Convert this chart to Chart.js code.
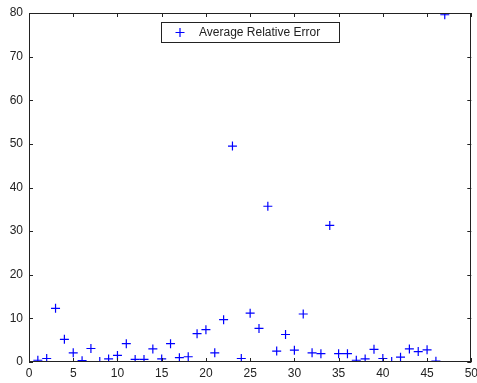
<!DOCTYPE html>
<html>
<head>
<meta charset="utf-8">
<script src="https://cdn.jsdelivr.net/npm/chart.js@4.4.0/dist/chart.umd.min.js"></script>
<style>
  html, body { margin: 0; padding: 0; background: #fff; }
  #wrap { width: 477px; height: 383px; }
</style>
</head>
<body>
<div id="wrap"><canvas id="c"></canvas></div>
<script>
// sample index and average relative error
const samples = [1, 2, 3, 4, 5, 6, 7, 8, 9, 10, 11, 12, 13, 14, 15, 16, 17, 18, 19, 20, 21, 22, 23, 24,
  25, 26, 27, 28, 29, 30, 31, 32, 33, 34, 35, 36, 37, 38, 39, 40, 41, 42, 43, 44, 45, 46, 47];
const avgRelError = [0.4, 0.8, 12.3, 5.2, 2.1, 0.3, 3.1, 0.1, 0.7, 1.5, 4.2, 0.6, 0.6, 3.0, 0.7, 4.2,
  1.0, 1.2, 6.5, 7.4, 2.1, 9.7, 49.5, 0.8, 11.2, 7.7, 35.7, 2.5, 6.3, 2.7, 11.0, 2.1, 1.9, 31.3,
  1.9, 1.9, 0.4, 0.7, 2.9, 0.8, 0.1, 1.1, 3.0, 2.4, 2.8, 0.2, 79.6];
const xTicks = [0, 5, 10, 15, 20, 25, 30, 35, 40, 45, 50];
const yTicks = [0, 10, 20, 30, 40, 50, 60, 70, 80];
const seriesLabel = 'Average Relative Error';

const ink = '#222';
const blue = '#0000ff';

// matlab style box with inward ticks and the boxed legend inside the axes
const matlabBox = {
  id: 'matlabBox',
  afterDraw(chart) {
    const ctx = chart.ctx;
    const a = chart.chartArea;
    const xs = chart.scales.x, ys = chart.scales.y;
    const tl = 4;
    ctx.save();
    ctx.strokeStyle = ink;
    ctx.lineWidth = 1;
    ctx.beginPath();
    xTicks.forEach(v => {
      const px = Math.round(xs.getPixelForValue(v)) + 0.5;
      ctx.moveTo(px, a.bottom); ctx.lineTo(px, a.bottom - tl);
      ctx.moveTo(px, a.top); ctx.lineTo(px, a.top + tl);
    });
    yTicks.forEach(v => {
      const py = Math.round(ys.getPixelForValue(v)) + 0.5;
      ctx.moveTo(a.left, py); ctx.lineTo(a.left + tl, py);
      ctx.moveTo(a.right, py); ctx.lineTo(a.right - tl, py);
    });
    ctx.stroke();
    ctx.strokeRect(Math.round(a.left) + 0.5, Math.round(a.top) + 0.5,
      Math.round(a.right - a.left) - 1, Math.round(a.bottom - a.top) - 1);

    // legend
    const lx = 161, ly = 22, lw = 178, lh = 20;
    ctx.fillStyle = '#fff';
    ctx.fillRect(lx, ly, lw, lh);
    ctx.strokeStyle = ink;
    ctx.strokeRect(lx + 0.5, ly + 0.5, lw, lh);
    ctx.strokeStyle = blue;
    ctx.lineWidth = 1.2;
    ctx.beginPath();
    ctx.moveTo(lx + 14.5, ly + 10.5); ctx.lineTo(lx + 23.5, ly + 10.5);
    ctx.moveTo(lx + 19, ly + 6); ctx.lineTo(lx + 19, ly + 15);
    ctx.stroke();
    ctx.fillStyle = ink;
    ctx.font = '12px "Liberation Sans", Arial, sans-serif';
    ctx.textBaseline = 'middle';
    ctx.fillText(chart.data.datasets[0].label, lx + 38, ly + 11);
    ctx.restore();
  }
};

new Chart(document.getElementById('c'), {
  type: 'scatter',
  data: {
    datasets: [{
      label: seriesLabel,
      data: samples.map((s, i) => ({ x: s, y: avgRelError[i] })),
      pointStyle: 'cross',
      pointRadius: 4.5,
      pointHoverRadius: 4.5,
      borderColor: blue,
      backgroundColor: blue,
      borderWidth: 1.2
    }]
  },
  options: {
    responsive: true,
    maintainAspectRatio: false,
    animation: false,
    events: [],
    layout: { padding: { top: 13, right: 5, left: 0, bottom: 0 } },
    plugins: {
      legend: { display: false },
      tooltip: { enabled: false }
    },
    scales: {
      x: {
        type: 'linear',
        min: 0, max: 50,
        afterFit(s) { s.height = 21; s.paddingLeft = 0; s.paddingRight = 0; },
        afterBuildTicks(s) { s.ticks = xTicks.map(v => ({ value: v })); },
        grid: { display: false, drawTicks: false },
        border: { display: false },
        ticks: { color: ink, padding: 4, maxRotation: 0, autoSkip: false,
          font: { family: '"Liberation Sans", Arial, sans-serif', size: 12 } }
      },
      y: {
        type: 'linear',
        min: 0, max: 80,
        afterFit(s) { s.width = 29; s.paddingTop = 0; s.paddingBottom = 0; },
        afterBuildTicks(s) { s.ticks = yTicks.map(v => ({ value: v })); },
        grid: { display: false, drawTicks: false },
        border: { display: false },
        ticks: { color: ink, padding: 6, autoSkip: false,
          font: { family: '"Liberation Sans", Arial, sans-serif', size: 12 } }
      }
    }
  },
  plugins: [matlabBox]
});
</script>
</body>
</html>
